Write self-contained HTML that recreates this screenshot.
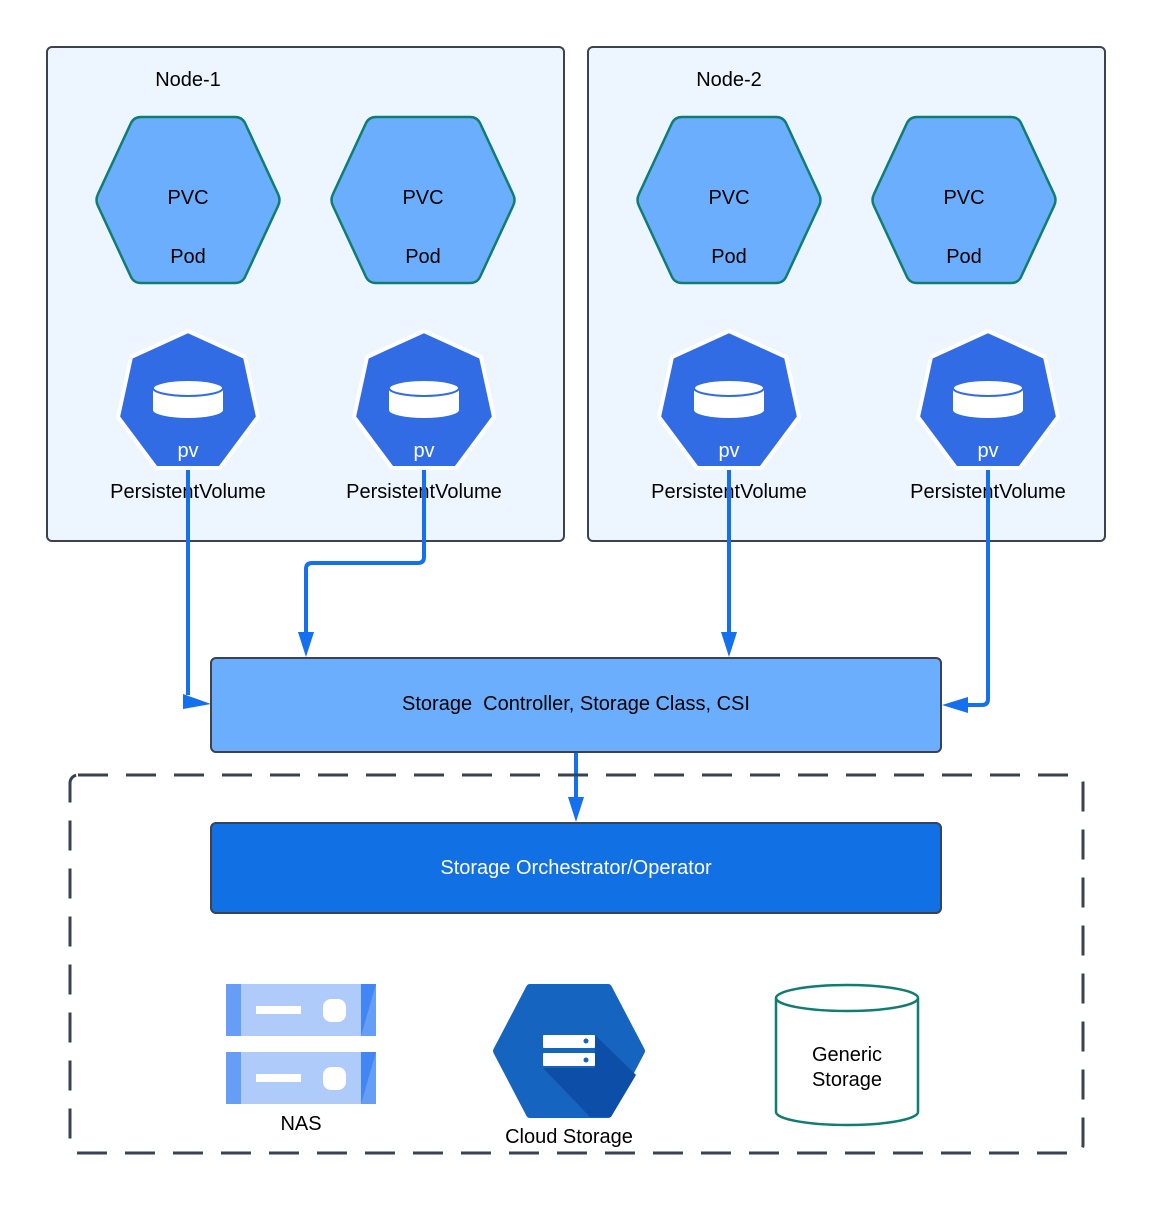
<!DOCTYPE html>
<html><head><style>body{margin:0;background:#fff}text{font-family:"Liberation Sans",sans-serif}</style></head><body>
<svg width="1153" height="1200" viewBox="0 0 1153 1200" xmlns="http://www.w3.org/2000/svg">
<defs>
<g id="hex"><path d="M-90,-6 L-57,-77 Q-54,-83 -47,-83 L47,-83 Q54,-83 57,-77 L90,-6 Q93,0 90,6 L57,77 Q54,83 47,83 L-47,83 Q-54,83 -57,77 L-90,6 Q-93,0 -90,-6 Z" fill="#6aaefd" stroke="#0f7d70" stroke-width="2.5"/>
<text x="0" y="4" font-size="20" text-anchor="middle">PVC</text><text x="0" y="63" font-size="20" text-anchor="middle">Pod</text></g>
<g id="pv"><polygon points="0,-69 57,-43 70,17 32,68 -32,68 -70,17 -57,-43" fill="#326ce5" stroke="#fff" stroke-width="4" stroke-linejoin="round"/>
<path d="M-35,-12 v22 a35,8 0 0 0 70,0 v-22 z" fill="#fff"/><ellipse cx="0" cy="-12" rx="35" ry="8" fill="#fff" stroke="#326ce5" stroke-width="2"/>
<text x="0" y="57" font-size="20" fill="#fff" text-anchor="middle">pv</text></g>
</defs>
<rect x="47" y="47" width="517" height="494" rx="5" fill="#edf5ff" stroke="#3d4250" stroke-width="2"/>
<rect x="588" y="47" width="517" height="494" rx="5" fill="#edf5ff" stroke="#3d4250" stroke-width="2"/>
<text x="188" y="86" font-size="20" text-anchor="middle">Node-1</text>
<text x="729" y="86" font-size="20" text-anchor="middle">Node-2</text>
<use href="#hex" x="188" y="200"/><use href="#hex" x="423" y="200"/><use href="#hex" x="729" y="200"/><use href="#hex" x="964" y="200"/>
<use href="#pv" x="188" y="400"/><use href="#pv" x="424" y="400"/><use href="#pv" x="729" y="400"/><use href="#pv" x="988" y="400"/>
<g font-size="20" text-anchor="middle"><text x="188" y="498">PersistentVolume</text><text x="424" y="498">PersistentVolume</text><text x="729" y="498">PersistentVolume</text><text x="988" y="498">PersistentVolume</text></g>
<g fill="none" stroke="#1570ef" stroke-width="4" stroke-linejoin="round">
<path d="M188,470 V695"/><path d="M424,470 V557 q0,6 -6,6 H312 q-6,0 -6,6 V636"/><path d="M729,470 V636"/><path d="M988,470 V699 q0,6 -6,6 H962"/><path d="M576,752 V800"/>
</g>
<g fill="#1570ef"><polygon points="183,694 183,709 211,704"/><polygon points="298,632 314,632 306,657"/><polygon points="721,632 737,632 729,657"/><polygon points="968,697 968,713 942,705"/><polygon points="568,797 584,797 576,822"/></g>
<rect x="211" y="658" width="730" height="94" rx="5" fill="#6aaefd" stroke="#3d4250" stroke-width="2"/>
<text x="576" y="710" font-size="20" text-anchor="middle">Storage&#160; Controller, Storage Class, CSI</text>
<rect x="70" y="775" width="1013" height="378" rx="8" fill="none" stroke="#3a4150" stroke-width="3" stroke-dasharray="30,18"/>
<rect x="211" y="823" width="730" height="90" rx="5" fill="#1170e4" stroke="#3d4250" stroke-width="2"/>
<text x="576" y="874" font-size="20" fill="#fff" text-anchor="middle">Storage Orchestrator/Operator</text>
<g id="nas"><rect x="226" y="984" width="150" height="52" fill="#aecbfa"/><rect x="226" y="984" width="15" height="52" fill="#669df6"/><rect x="361" y="984" width="15" height="52" fill="#4285f4"/><polygon points="376,984 376,1036 361,1036" fill="#669df6"/><rect x="256" y="1006" width="45" height="8" fill="#fff"/><rect x="323" y="999" width="23" height="23" rx="8" fill="#fff"/></g>
<use href="#nas" y="68"/>
<text x="301" y="1130" font-size="20" text-anchor="middle">NAS</text>
<polygon points="497,1051 530,988 608,988 641,1051 608,1114 530,1114" fill="#1565c0" stroke="#1565c0" stroke-width="8" stroke-linejoin="round"/>
<polygon points="595,1035 636,1075 611,1117 590,1117 543,1068 595,1068" fill="#0d4fa8"/>
<rect x="543" y="1035" width="52" height="13" rx="1" fill="#fff"/><rect x="543" y="1053" width="52" height="13" rx="1" fill="#fff"/>
<circle cx="586" cy="1041" r="2.5" fill="#1565c0"/><circle cx="586" cy="1060" r="2.5" fill="#1565c0"/>
<text x="569" y="1143" font-size="20" text-anchor="middle">Cloud Storage</text>
<path d="M776,998 V1112 a71,13 0 0 0 142,0 V998" fill="#fff" stroke="#0f7d70" stroke-width="2.5"/>
<ellipse cx="847" cy="998" rx="71" ry="13" fill="#fff" stroke="#0f7d70" stroke-width="2.5"/>
<text x="847" y="1061" font-size="20" text-anchor="middle">Generic</text><text x="847" y="1086" font-size="20" text-anchor="middle">Storage</text>
</svg>
</body></html>
